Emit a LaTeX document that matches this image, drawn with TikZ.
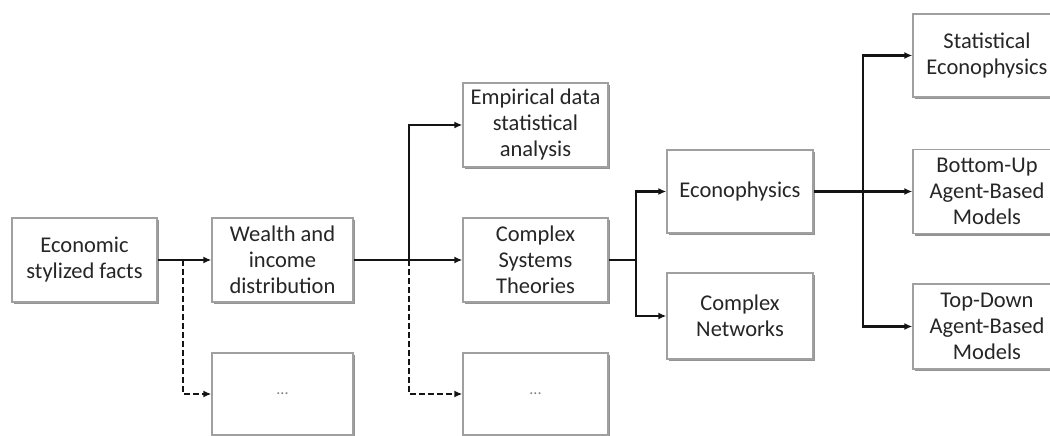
\documentclass[tikz,border=0pt]{standalone}
\usepackage{fontspec}
\setmainfont{Carlito}
\usetikzlibrary{arrows.meta,shadows}
\definecolor{txt}{HTML}{262626}
\definecolor{bord}{HTML}{A0A0A0}
\begin{document}
\begin{tikzpicture}[x=1pt,y=-1pt,
  box/.style={draw=bord,line width=1.3pt,fill=white,align=center,inner sep=0pt,
    text=txt,font=\fontsize{22.5}{26}\selectfont,
    drop shadow={shadow xshift=2pt,shadow yshift=-2pt,fill=gray!85,opacity=1}},
  conn/.style={line width=2.6pt,black!92},
  arr/.style={conn,-{Latex[length=8pt,width=7pt]}},
  dasharr/.style={arr,dash pattern=on 6pt off 3pt}]
\useasboundingbox (0,0) rectangle (1050,436);
\node[box,minimum width=145pt,minimum height=84pt] (esf) at (84.5,260) {Economic\\stylized facts};
\node[box,minimum width=141pt,minimum height=84pt] (wid) at (282.5,260) {Wealth and\\income\\distribution};
\node[box,minimum width=141pt,minimum height=82pt,font=\fontsize{16}{18}\selectfont,text=gray] (d1) at (282.5,394) {...};
\node[box,minimum width=145pt,minimum height=84pt] (emp) at (535.5,125) {Empirical data\\statistical\\analysis};
\node[box,minimum width=145pt,minimum height=84pt] (cst) at (535.5,260) {Complex\\Systems\\Theories};
\node[box,minimum width=145pt,minimum height=82pt,font=\fontsize{16}{18}\selectfont,text=gray] (d2) at (535.5,394) {...};
\node[box,minimum width=146pt,minimum height=83pt] (eco) at (740,191.5) {Econophysics};
\node[box,minimum width=146pt,minimum height=86pt] (cn) at (740,316) {Complex\\Networks};
\node[box,minimum width=148pt,minimum height=83pt] (se) at (987,55.5) {Statistical\\Econophysics};
\node[box,minimum width=148pt,minimum height=84pt] (bu) at (987,191.5) {Bottom-Up\\Agent-Based\\Models};
\node[box,minimum width=148pt,minimum height=85pt] (td) at (987,326.5) {Top-Down\\Agent-Based\\Models};
\coordinate (j1) at (183,260);
\coordinate (j2) at (409,260);
\coordinate (j3) at (636,260);
\coordinate (j4) at (863,191.5);
\draw[arr] (esf.east) -- (wid.west);
\draw[dasharr] (j1) |- (d1.west);
\draw[conn] (wid.east) -- (j2);
\draw[arr] (j2) |- (emp.west);
\draw[arr] (j2) -- (cst.west);
\draw[dasharr] (j2) |- (d2.west);
\draw[conn] (cst.east) -- (j3);
\draw[arr] (j3) |- (eco.west);
\draw[arr] (j3) |- (cn.west);
\draw[conn] (eco.east) -- (j4);
\draw[arr] (j4) |- (se.west);
\draw[arr] (j4) -- (bu.west);
\draw[arr] (j4) |- (td.west);
\end{tikzpicture}
\end{document}
